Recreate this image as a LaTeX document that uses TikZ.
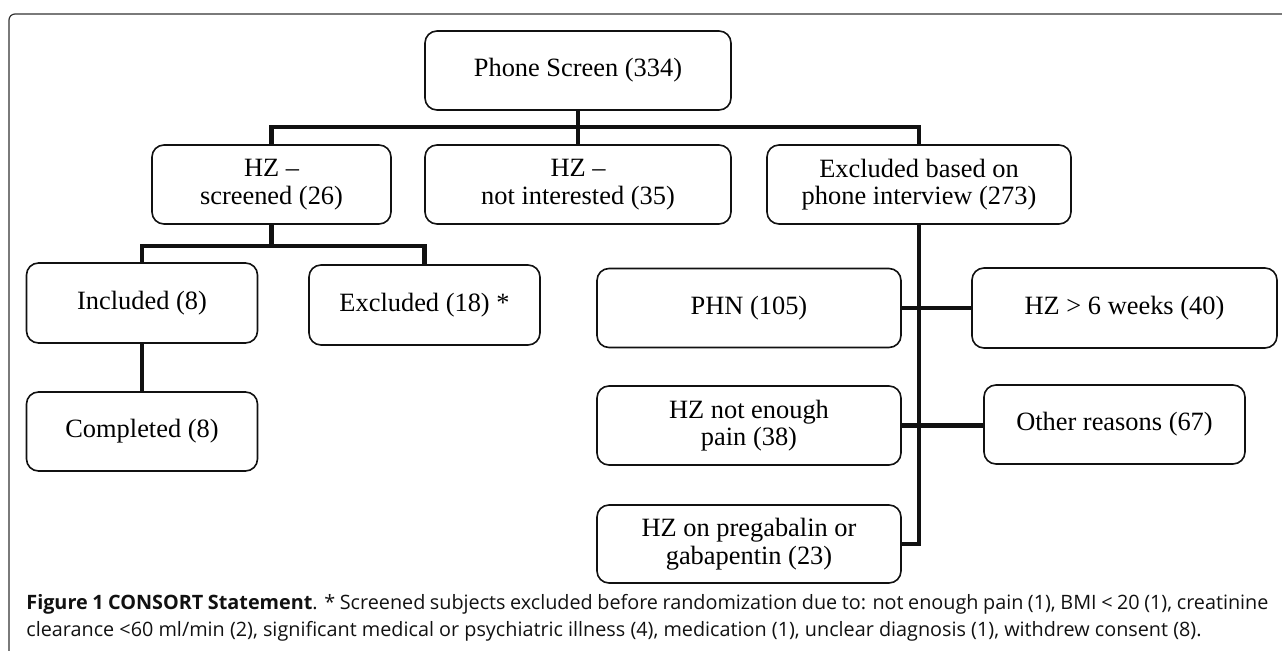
\documentclass[tikz,border=0pt]{standalone}
\usepackage{fontspec}
\setmainfont{Liberation Serif}
\newfontfamily\capfont{Open Sans}
\usepackage{tikz}
\usetikzlibrary{calc}
\definecolor{ink}{HTML}{111111}
\definecolor{frame}{HTML}{333333}
\tikzset{
  box/.style={draw=ink, line width=0.8pt, rounded corners=6pt, align=center,
    inner sep=0pt, font=\fontsize{13.2}{13.8}\selectfont},
  conn/.style={draw=ink, line width=2.1pt},
  captext/.style={anchor=base west, inner sep=0pt, text width=621pt, align=justify,
    font=\capfont\fontsize{9.9}{13.5}\selectfont, text=ink},
}

\begin{document}
\begin{tikzpicture}[x=0.5pt, y=-0.5pt]
  \useasboundingbox (0,0) rectangle (1282,651);
  % outer frame, open on the right and at the bottom
  \draw[frame, line width=0.6pt, rounded corners=3pt] (9,651) -- (9,14) -- (1282,14);

  % top level
  \node[box, minimum width=153pt, minimum height=39.5pt] (ps) at (578,70.5) {Phone Screen (334)};

  % second level
  \node[box, minimum width=119.5pt, minimum height=39.5pt] (scr)  at (271.5,184.5) {HZ --\\screened (26)};
  \node[box, minimum width=153pt, minimum height=39.5pt]   (noti) at (578,184.5)   {HZ --\\not interested (35)};
  \node[box, minimum width=152pt, minimum height=39.5pt]   (excl) at (919,184.5)   {Excluded based on\\phone interview (273)};

  % left branch
  \node[box, minimum width=115.5pt, minimum height=40pt] (inc)  at (142,303)   {Included (8)};
  \node[box, minimum width=115.5pt, minimum height=40pt] (exc)  at (424.5,305) {Excluded (18) *};
  \node[box, minimum width=115.5pt, minimum height=39.5pt] (comp) at (142,431.5) {Completed (8)};

  % reasons for exclusion
  \node[box, minimum width=152pt, minimum height=39.5pt]   (phn)  at (749,308)    {PHN (105)};
  \node[box, minimum width=152.5pt, minimum height=40pt]   (wks)  at (1124.5,308) {HZ > 6 weeks (40)};
  \node[box, minimum width=152pt, minimum height=39.5pt]   (pain) at (749,425.5)  {HZ not enough\\pain (38)};
  \node[box, minimum width=130.5pt, minimum height=39.5pt] (oth)  at (1114.5,424.5) {Other reasons (67)};
  \node[box, minimum width=152pt, minimum height=39pt]     (preg) at (749,544)    {HZ on pregabalin or\\gabapentin (23)};

  \coordinate (bus1) at (0,127);
  \coordinate (bus2) at (0,246);

  % connectors
  \draw[conn] (ps.south) -- (noti.north);
  \draw[conn] (scr.north) |- (bus1 -| excl.north) -- (excl.north);
  \draw[conn] (scr.south) -- (scr.south |- bus2);
  \draw[conn] (inc.north) |- (bus2 -| exc.north) -- (exc.north);
  \draw[conn] (inc.south) -- (comp.north);
  \draw[conn] (excl.south) |- (preg.east);
  \draw[conn] (phn.east) -- (phn.east -| wks.west);
  \draw[conn] (pain.east) -- (pain.east -| oth.west);

  % caption
  \node[captext] (caption) at (26,610) {\textbf{Figure 1 CONSORT Statement}. * Screened subjects excluded before randomization due to: not enough pain (1), BMI < 20 (1), creatinine clearance <60 ml/min (2), significant medical or psychiatric illness (4), medication (1), unclear diagnosis (1), withdrew consent (8).};
\end{tikzpicture}
\end{document}
